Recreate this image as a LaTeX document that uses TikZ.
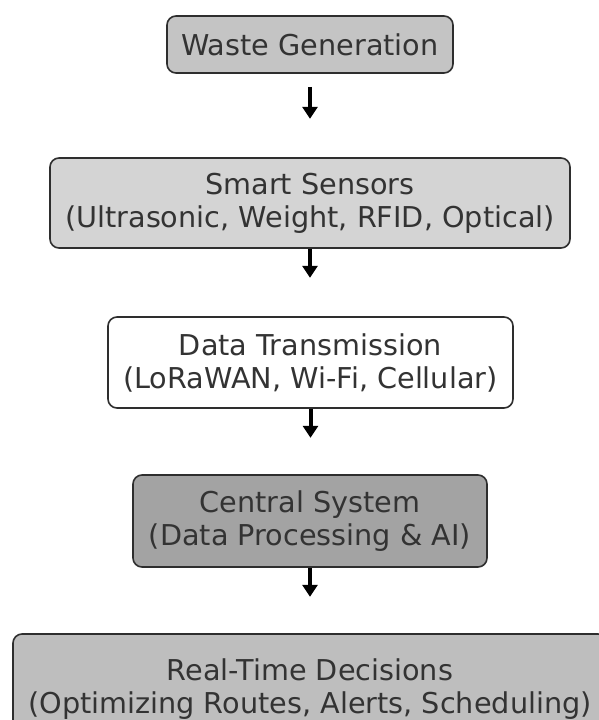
\documentclass[tikz,border=0pt]{standalone}
\usepackage{fontspec}
\setmainfont{DejaVu Sans}
\usetikzlibrary{arrows.meta}

\definecolor{edgegray}{HTML}{2E2E2E}
\definecolor{labelgray}{HTML}{333333}
\definecolor{fillmid}{HTML}{C4C4C4}
\definecolor{filllight}{HTML}{D4D4D4}
\definecolor{filldark}{HTML}{A3A3A3}
\definecolor{fillend}{HTML}{BEBEBE}

\tikzset{
  stage/.style={draw=edgegray, line width=1.6pt, rounded corners=9pt,
    align=center, inner sep=0pt, text=labelgray,
    font=\fontsize{28.7}{33}\selectfont},
  flow/.style={-{Triangle[length=12pt,width=15pt]}, line width=4pt, black},
}

\begin{document}
\begin{tikzpicture}[x=1pt,y=-1pt]
\useasboundingbox (0,0) rectangle (598,720);

% pipeline stages, top to bottom
\node[stage, fill=fillmid, minimum width=286pt, minimum height=57pt] (waste) at (310,44.5)
  {Waste Generation};
\node[stage, fill=filllight, minimum width=520pt, minimum height=90pt] (sensors) at (310,203)
  {Smart Sensors\\(Ultrasonic, Weight, RFID, Optical)};
\node[stage, fill=white, minimum width=405pt, minimum height=91pt] (transmit) at (310.5,362.5)
  {Data Transmission\\(LoRaWAN, Wi-Fi, Cellular)};
\node[stage, fill=filldark, minimum width=354pt, minimum height=92pt] (central) at (310,521)
  {Central System\\(Data Processing \& AI)};
\node[stage, fill=fillend, minimum width=594pt, minimum height=110pt] (decide) at (310,689)
  {Real-Time Decisions\\(Optimizing Routes, Alerts, Scheduling)};

% short arrows below each stage
\coordinate (w1) at ([yshift=-13pt]waste.south);
\coordinate (w2) at ([yshift=-45pt]waste.south);
\draw[flow] (w1) -- (w2);
\draw[flow] (sensors.south) -- ([yshift=-29pt]sensors.south);
\draw[flow] (transmit.south) -- ([yshift=-29pt]transmit.south);
\draw[flow] (central.south) -- ([yshift=-29pt]central.south);
\end{tikzpicture}
\end{document}
